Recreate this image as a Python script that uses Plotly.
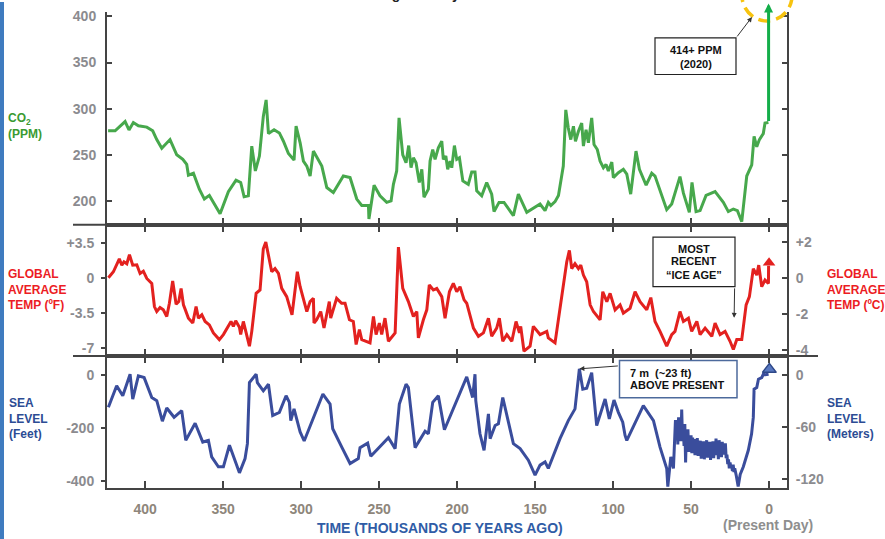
import plotly.graph_objects as go

FONT = "Liberation Sans, Arial, sans-serif"

# ---------------- data (thousands of years ago) ----------------
co2_kyr = [423.7, 419.2, 412.8, 410.3, 407.5, 404.3, 398.9, 395.1, 392.5, 389.3, 384.0, 379.7, 375.8,
           373.3, 372.2, 369.0, 365.2, 362.0, 358.8, 351.9, 346.6, 341.7, 338.7, 336.5, 333.8, 331.6,
           329.3, 326.7, 324.2, 322.4, 320.9, 317.3, 313.9, 311.3, 308.1, 304.5, 303.2, 300.6, 298.5,
           296.3, 294.2, 292.1, 286.7, 283.5, 279.3, 272.9, 268.6, 264.3, 261.1, 256.8, 256.5, 253.2,
           249.4, 245.1, 242.3, 240.8, 238.7, 237.2, 234.8, 232.7, 231.0, 229.5, 228.0, 226.3, 224.2,
           222.6, 221.2, 218.4, 217.3, 215.6, 214.1, 212.0, 209.8, 208.8, 207.2, 206.0, 204.5, 203.4,
           201.7, 200.2, 198.5, 196.3, 192.8, 190.6, 188.5, 187.4, 184.2, 181.0, 177.8, 176.3, 173.1,
           169.9, 163.9, 160.7, 155.3, 146.8, 143.6, 141.5, 139.9, 137.2, 135.0, 133.5, 131.9, 130.3,
           128.7, 127.1, 125.4, 124.1, 122.2, 120.1, 119.0, 117.3, 115.8, 113.7, 112.2, 110.1, 108.3,
           106.2, 104.5, 103.0, 100.8, 99.8, 96.6, 93.4, 91.2, 88.7, 85.3, 83.1, 78.8, 75.2, 73.1,
           65.6, 62.4, 57.1, 54.9, 51.1, 49.4, 46.8, 44.2, 40.4, 34.6, 29.3, 26.1, 22.9, 20.3, 17.5,
           14.3, 11.1, 9.6, 7.9, 6.2, 3.7, 2.6, 0.4]
co2_ppm = [276, 276, 286, 277, 285, 281.5, 280, 276, 266.5, 257, 266.5, 250, 245,
           239.6, 228, 230, 212.7, 202, 206, 186, 210, 222.4, 220, 204.5, 205.6, 259.4,
           232.5, 248.6, 291.6, 309.5, 273, 277.2, 273.7, 264.7, 251.4, 244.3, 281, 263, 243.2,
           237.8, 227, 254, 237.8, 214.5, 209, 227, 225.3, 202, 195, 195, 180.4, 217,
           205.6, 198.4, 200, 218, 232.5, 290, 250, 241.4, 260, 236, 246.8, 241.4, 220,
           234.2, 204, 212.7, 243.2, 255.7, 245, 257.5, 264.7, 245, 248.6, 234.2, 243.2, 236,
           260, 245, 246.8, 221.7, 218, 231.4, 231.4, 211, 205.6, 220, 207.3, 188.4, 198.4,
           198.4, 184, 207.3, 187.6, 196.6, 189.5, 198.4, 195, 199.2, 206, 220, 237.8, 298.7,
           279, 266.5, 281, 264.7, 275.5, 284.4, 259.4, 277.2, 263, 290, 261.1, 255.7, 243,
           236, 239.6, 232.5, 242, 225.3, 230.6, 234.2, 229, 207.3, 254, 234.2, 217, 230, 227,
           190.5, 196.6, 226.3, 208.4, 187.6, 220, 188.4, 189.5, 206, 210, 198.4, 188.4, 191.2, 189.5, 177.6,
           227, 239, 270, 258.6, 266.5, 273, 284.4, 285]
co2_2020_kyr = 0.3
co2_2020_ppm = 414

temp_kyr = [423.5, 420.3, 416.5, 414.9, 413.5, 411.7, 410.0, 407.9, 405.3, 403.2, 401.1, 398.9, 395.7,
            394.0, 392.5, 390.4, 388.3, 386.1, 384.4, 382.3, 380.1, 378.4, 376.9, 375.4, 374.4, 372.2,
            369.4, 367.3, 365.8, 363.6, 361.5, 358.8, 356.2, 352.4, 349.8, 344.9, 343.4, 341.9, 339.5,
            338.7, 337.0, 333.1, 331.6, 328.8, 326.3, 324.2, 322.6, 320.9, 318.8, 316.7, 314.5, 312.4,
            309.2, 305.8, 302.4, 300.6, 298.5, 296.3, 294.2, 292.1, 291.7, 290.0, 287.4, 285.3, 281.9,
            281.0, 277.2, 274.0, 271.8, 269.0, 266.5, 264.7, 262.6, 261.1, 255.8, 253.6, 251.9, 249.8,
            248.3, 246.2, 244.0, 239.7, 237.6, 234.8, 231.2, 228.0, 225.8, 224.8, 221.6, 219.4, 217.8,
            215.2, 213.0, 209.8, 207.7, 204.9, 202.4, 200.2, 198.1, 195.5, 193.8, 191.7, 189.5, 186.3,
            183.1, 179.9, 177.8, 174.6, 172.9, 170.7, 168.1, 164.9, 162.2, 160.0, 159.2, 157.1, 153.2,
            151.1, 146.8, 142.5, 141.5, 137.2, 132.9, 129.7, 128.0, 126.5, 124.4, 122.2, 120.7, 119.0,
            116.9, 114.7, 112.6, 108.3, 106.6, 104.0, 101.9, 98.7, 95.5, 93.4, 89.1, 85.9, 82.7, 78.4,
            75.8, 73.1, 69.9, 65.6, 62.4, 60.3, 57.1, 54.9, 51.7, 49.6, 46.3, 44.2, 41.0, 36.7, 34.6,
            31.4, 28.2, 25.0, 22.9, 20.7, 17.5, 14.7, 12.6, 10.1, 7.9, 6.6, 4.7, 2.6, 0.4, 0.3]
temp_f = [0, 0.6, 1.9, 1.26, 1.6, 1.4, 2.3, 1.26, 1.3, 0.43, 0.66, -0.07, -0.56,
          -2.87, -3.37, -2.97, -3.2, -3.86, -2.54, -0.33, -2.64, -2.38, -1.06, -2.7, -3.1, -4.03,
          -4.52, -2.87, -4.03, -3.7, -4.36, -4.7, -5.5, -6.17, -5.67, -4.36, -4.85, -4.29, -4.95,
          -5.67, -4.36, -6.83, -5.35, -1.55, -1.22, 2.9, 3.56, 2.25, 0.6, 0.92, 0.43, -1.06,
          -1.88, -3.7, 0.6, -0.89, -2.2, -3.37, -2.38, -2.05, -4.52, -4.19, -3.37, -5.02, -2.38,
          -4.03, -2.05, -2.54, -2.54, -4.19, -4.36, -6.66, -5.18, -6.17, -6.5, -3.86, -5.67, -4.52,
          -5.67, -4.03, -6.34, -5.5, 3.07, -1.06, -2.38, -3.86, -3.37, -6.0, -4.19, -3.2, -0.72,
          -1.22, -1.06, -1.88, -4.03, -1.39, -0.56, -1.39, -0.89, -2.2, -2.54, -3.7, -5.02, -5.84,
          -5.5, -4.03, -5.84, -5.02, -4.03, -6.34, -5.67, -6.34, -4.36, -5.5, -4.85, -7.33, -6.83,
          -4.85, -5.67, -5.35, -6.0, -6.5, -2.05, 1.58, 2.74, 0.92, 1.42, 0.92, 1.26, 0.27,
          -0.4, -2.7, -3.37, -4.2, -1.39, -2.38, -1.55, -3.2, -2.7, -3.53, -3.04, -1.39, -2.38, -3.2,
          -1.98, -4.36, -5.35, -6.83, -5.67, -5.35, -3.37, -4.36, -4.03, -5.35, -4.36, -5.67, -5.02, -5.84, -4.52,
          -5.67, -5.35, -6.34, -7.16, -6.17, -6.17, -2.7, -1.88, 0.92, 0.27, 1.26, -0.89, -0.23, -0.56, 1.2]
temp_now_kyr = 0.0
temp_now_f = 1.5

sea_kyr = [423.5, 418.2, 414.3, 409.6, 407.9, 404.3, 400.6, 395.7, 392.5, 388.9, 386.1, 381.4, 376.5,
           373.9, 367.9, 363.0, 359.4, 357.3, 353.0, 349.8, 345.9, 339.5, 335.9, 334.4, 333.1, 328.8,
           328.0, 324.2, 320.9, 318.2, 313.9, 309.6, 307.5, 306.6, 304.5, 301.7, 300.6, 298.0, 292.1,
           286.0, 281.4, 279.7, 273.9, 268.6, 263.3, 262.2, 257.3, 255.3, 244.0, 239.7, 237.0, 232.7,
           231.2, 226.9, 220.5, 218.4, 215.6, 212.0, 208.1, 193.8, 190.0, 188.5, 188.0, 185.3, 182.7,
           179.9, 178.8, 175.6, 173.5, 170.7, 163.9, 159.6, 154.3, 150.0, 146.8, 143.6, 141.5, 134.0,
           128.7, 124.4, 121.6, 119.4, 116.9, 113.7, 110.5, 108.3, 105.1, 102.4, 99.4, 96.6, 93.8,
           92.3, 91.2, 80.6, 74.1, 69.9, 67.7, 65.6, 64.9, 63.0, 61.3,
           60.0, 59.5, 59.0, 58.5, 58.0, 57.5, 57.0, 56.5, 56.0, 55.5, 55.0, 54.5, 54.0, 53.5,
           53.0, 52.5, 52.0, 51.5, 51.0, 50.5, 50.0, 49.5, 49.0, 48.5, 48.0, 47.5, 47.0, 46.5,
           46.0, 45.5, 45.0, 44.5, 44.0, 43.5, 43.0, 42.5, 42.0, 41.5, 41.0, 40.5, 40.0, 39.5,
           39.0, 38.5, 38.0, 37.5, 37.0, 36.5, 36.0, 35.5, 35.0, 34.5, 34.0, 33.5, 33.0, 32.5,
           32.0, 31.5, 31.0, 30.5, 30.0, 29.5, 29.0, 28.5, 28.0, 27.5, 27.0, 26.5, 26.0, 25.5,
           25.0, 24.5, 24.0, 23.5, 23.0, 22.5, 22.0, 21.0, 20.3, 19.8, 18.5, 16.5, 13.3, 11.2,
           10.1, 9.6, 7.9, 6.8, 4.7, 3.7, 2.5, 1.0, 0.3]
sea_ft = [-122, -41, -78.5, 2.6, -91, -3.7, -10, -85, -97, -174.5, -124.5, -159.6, -134.6,
          -246.7, -182, -253, -246.7, -309, -346.5, -346.5, -265, -369, -315, -259, -28.7, 2.6,
          -28.7, -60, -35, -153, -141, -78.5, -103.5, -172, -128, -190.7, -215, -249, -159.6,
          -72, -109.6, -203, -272, -334, -315, -274, -257, -306.5, -236.6, -277.8, -109.6, -35,
          -47.5, -274, -212, -221.7, -103.5, -78.5, -206.7, -7.5, -84.9, 2.6, -97, -221.7, -284,
          -147, -240, -190.7, -184, -85, -259, -277.8, -321.5, -377.6, -340, -327.8, -352.5, -240,
          -172, -128, 23, -53.5, -50, 8.6, -190.7, -150, -91, -165.6, -94.6, -141, -178,
          -228, -246.7, -116, -172, -272, -309, -352.5, -421, -309, -352.5,
          -170, -235, -185, -262, -160, -228, -190, -250, -130, -238, -200, -268, -185, -330,
          -220, -265, -205, -290, -232, -262, -228, -295, -236, -272, -242, -302, -250, -280,
          -238, -305, -262, -290, -248, -316, -255, -292, -250, -318, -262, -300, -246, -312,
          -268, -296, -252, -320, -258, -292, -250, -314, -262, -302, -240, -298, -258, -318,
          -246, -292, -262, -310, -252, -300, -266, -296, -258, -314, -300, -336, -318, -352,
          -330, -348, -340, -362, -338, -366, -352, -380, -400, -421, -375, -346, -284, -222,
          -160, -53.5, -47.5, -16, -10, 2.6, 1, 2, 3]
sea_now_kyr = -0.2
sea_now_ft = 21

x_ticks = [400, 350, 300, 250, 200, 150, 100, 50, 0]
co2_ticks = [200, 250, 300, 350, 400]
tempf_ticks = [3.5, 0, -3.5, -7]
tempf_text = ["+3.5", "0", "-3.5", "-7"]
tempc_ticks = [2, 0, -2, -4]
tempc_text = ["+2", "0", "-2", "-4"]
seaft_ticks = [0, -200, -400]
seaft_text = ["0", "-200", "-400"]
seam_ticks = [0, -60, -120]
seam_text = ["0", "-60", "-120"]

# ---------------- styling ----------------
CO2_LINE = "#47a84c"
CO2_NOW = "#14ae4a"
CO2_TXT = "#3a9a32"
TEMP_LINE = "#e3211f"
TEMP_TXT = "#ec1c24"
SEA_LINE = "#3a4d9c"
SEA_TXT = "#2c4c94"
AXIS = "#444444"
TICK_TXT = "#8b8b8f"
XTICK_TXT = "#8e867b"

X_RANGE = [424.4, -11.5]
CO2_RANGE = [174.2, 404.8]
TEMPF_RANGE = [-7.82, 5.30]
SEAFT_RANGE = [-426.2, 71.0]
tempc_range = [v / 1.8 for v in TEMPF_RANGE]
seam_range = [v * 0.3048 for v in SEAFT_RANGE]

W, H = 885, 539
ML, MR, MT, MB = 107, 98, 8, 51
PW, PH = W - ML - MR, H - MT - MB


def px(xp):
    return (xp - ML) / PW


def py(yp):
    return (H - MB - yp) / PH


D_CO2 = [py(222.5), 1.0]
D_TEMP = [py(355), py(222.5)]
D_SEA = [0.0, py(355)]

fig = go.Figure()
fig.add_trace(go.Scatter(x=co2_kyr, y=co2_ppm, xaxis="x", yaxis="y", mode="lines",
                         line=dict(color=CO2_LINE, width=3), hoverinfo="skip"))
fig.add_trace(go.Scatter(x=temp_kyr, y=temp_f, xaxis="x2", yaxis="y2", mode="lines",
                         line=dict(color=TEMP_LINE, width=3), hoverinfo="skip"))
fig.add_trace(go.Scatter(x=[temp_now_kyr], y=[temp_now_f], xaxis="x2", yaxis="y2", mode="markers",
                         marker=dict(symbol="triangle-up", size=11, color=TEMP_LINE),
                         cliponaxis=False, hoverinfo="skip"))
fig.add_trace(go.Scatter(x=sea_kyr, y=sea_ft, xaxis="x3", yaxis="y3", mode="lines",
                         line=dict(color=SEA_LINE, width=3), hoverinfo="skip"))
fig.add_trace(go.Scatter(x=[sea_now_kyr], y=[sea_now_ft], xaxis="x3", yaxis="y3", mode="markers",
                         marker=dict(symbol="triangle-up", size=12, color="#5878c0",
                                     line=dict(color="#2e4888", width=1.5)),
                         cliponaxis=False, hoverinfo="skip"))
# companion traces carrying the Celsius / metre scales on the right-hand axes
fig.add_trace(go.Scatter(x=temp_kyr, y=[v / 1.8 for v in temp_f], xaxis="x2", yaxis="y4",
                         mode="lines", line=dict(width=0), opacity=0, hoverinfo="skip"))
fig.add_trace(go.Scatter(x=sea_kyr, y=[v * 0.3048 for v in sea_ft], xaxis="x3", yaxis="y5",
                         mode="lines", line=dict(width=0), opacity=0, hoverinfo="skip"))

tickfont = dict(family=FONT, size=14, color=TICK_TXT, weight="bold")
xcommon = dict(range=X_RANGE, autorange=False, tickvals=x_ticks, ticktext=[str(v) for v in x_ticks],
               ticks="inside", ticklen=7, tickwidth=1.5, tickcolor=AXIS, linecolor=AXIS,
               linewidth=2, showgrid=False, zeroline=False, showline=True)
ycommon = dict(autorange=False, showgrid=False, zeroline=False, showline=True, linecolor=AXIS,
               linewidth=2, tickcolor=AXIS, tickwidth=1.5, tickfont=tickfont)

fig.update_layout(
    width=W, height=H, margin=dict(l=ML, r=MR, t=MT, b=MB),
    paper_bgcolor="white", plot_bgcolor="white", showlegend=False,
    font=dict(family=FONT),
    xaxis=dict(**xcommon, anchor="y", showticklabels=False),
    xaxis2=dict(**xcommon, anchor="y2", mirror="ticks", showticklabels=False),
    xaxis3=dict(**xcommon, anchor="y3", mirror="ticks", showticklabels=True,
                tickfont=dict(family=FONT, size=14, color=XTICK_TXT, weight="bold"),
                ticklabelstandoff=7),
    yaxis=dict(**ycommon, domain=D_CO2, range=CO2_RANGE, anchor="x", tickvals=co2_ticks,
               ticks="inside", ticklen=5, mirror="ticks", ticklabelstandoff=6),
    yaxis2=dict(**ycommon, domain=D_TEMP, range=TEMPF_RANGE, anchor="x2", tickvals=tempf_ticks,
                ticktext=tempf_text, ticks="outside", ticklen=4, ticklabelstandoff=4),
    yaxis3=dict(**ycommon, domain=D_SEA, range=SEAFT_RANGE, anchor="x3", tickvals=seaft_ticks,
                ticktext=seaft_text, ticks="outside", ticklen=4, ticklabelstandoff=4),
    yaxis4=dict(**ycommon, range=tempc_range, overlaying="y2", side="right", anchor="x2",
                tickvals=tempc_ticks, ticktext=tempc_text, ticks="inside", ticklen=5,
                ticklabelstandoff=4),
    yaxis5=dict(**ycommon, range=seam_range, overlaying="y3", side="right", anchor="x3",
                tickvals=seam_ticks, ticktext=seam_text, ticks="inside", ticklen=5,
                ticklabelstandoff=4),
)

shapes = [
    # blue strip on the left edge
    dict(type="rect", xref="paper", yref="paper", x0=px(-2), x1=px(4), y0=py(H + 2), y1=py(-2),
         fillcolor="#3f7bbf", line=dict(width=0), layer="above"),
    # panel separators
    dict(type="line", xref="paper", yref="paper", x0=px(73), x1=px(787), y0=py(222.5), y1=py(222.5),
         line=dict(color=AXIS, width=2), layer="above"),
    dict(type="line", xref="paper", yref="paper", x0=px(73), x1=px(818), y0=py(355), y1=py(355),
         line=dict(color=AXIS, width=2), layer="above"),
    # dashed highlight ring around the present-day CO2 value
    dict(type="circle", xref="paper", yref="paper", x0=px(742), x1=px(792), y0=py(17), y1=py(-34),
         line=dict(color="#f7c30f", width=3.5, dash="12px,6px"), layer="above"),
    # annotation boxes
    dict(type="rect", xref="paper", yref="paper", x0=px(655), x1=px(736), y0=py(71), y1=py(34),
         fillcolor="white", line=dict(color="#222", width=1.2), layer="above"),
    dict(type="rect", xref="paper", yref="paper", x0=px(653), x1=px(735), y0=py(285), y1=py(235),
         fillcolor="white", line=dict(color="#222", width=1.2), layer="above"),
    dict(type="rect", xref="paper", yref="paper", x0=px(619.5), x1=px(737), y0=py(397), y1=py(359.5),
         fillcolor="white", line=dict(color="#4d6a9c", width=1.5), layer="above"),
]
fig.update_layout(shapes=shapes)


def label(text, x, y, color, size=12, xanchor="left", yanchor="middle", bold=True, align="left"):
    return dict(text=text, x=px(x), y=py(y), xref="paper", yref="paper", showarrow=False,
                xanchor=xanchor, yanchor=yanchor, align=align,
                font=dict(family=FONT, size=size, color=color, weight="bold" if bold else "normal"))


annotations = [
    # title sitting above the top edge (only its descenders reach the page)
    dict(text="Long-Term Cycles", x=px(426), y=py(-0.5), xref="paper", yref="paper", showarrow=False,
         xanchor="center", yanchor="bottom", font=dict(family=FONT, size=14, color="#222", weight="bold")),
    label("CO<sub>2</sub><br>(PPM)", 6, 123, CO2_TXT),
    label("GLOBAL<br>AVERAGE<br>TEMP (ºF)", 6, 288, TEMP_TXT),
    label("SEA<br>LEVEL<br>(Feet)", 7, 417.5, SEA_TXT),
    label("GLOBAL<br>AVERAGE<br>TEMP (ºC)", 825, 288, TEMP_TXT),
    label("SEA<br>LEVEL<br>(Meters)", 825, 417.5, SEA_TXT),
    label("TIME (THOUSANDS OF YEARS AGO)", 440, 528, "#2f5ca6", size=14, xanchor="center"),
    label("(Present Day)", 767.5, 525, "#8e8e8e", size=14, xanchor="center"),
    # box texts
    label("414+ PPM", 695.5, 46, "#111", size=11, xanchor="center"),
    label("(2020)", 695.5, 60.5, "#111", size=11, xanchor="center"),
    label("MOST", 694, 246.5, "#111", size=11, xanchor="center"),
    label("RECENT", 694, 259.5, "#111", size=11, xanchor="center"),
    label("“ICE AGE”", 694, 273, "#111", size=11, xanchor="center"),
    label("7 m  (~23 ft)", 628, 372.5, "#111", size=11),
    label("ABOVE PRESENT", 628, 384.5, "#111", size=11),
    # present-day CO2 jump
    dict(text="", x=co2_2020_kyr, y=co2_2020_ppm, xref="x", yref="y",
         ax=co2_2020_kyr, ay=co2_ppm[-1], axref="x", ayref="y",
         showarrow=True, arrowhead=2, arrowsize=0.6, arrowwidth=3, arrowcolor=CO2_NOW),
    # pointer arrows
    dict(text="", x=px(752), y=py(13), xref="paper", yref="paper", ax=-16, ay=21,
         showarrow=True, arrowhead=2, arrowsize=1, arrowwidth=1, arrowcolor="#333"),
    dict(text="", x=22.4, y=-4.0, xref="x2", yref="y2", ax=0.5, ay=-31,
         showarrow=True, arrowhead=2, arrowsize=1, arrowwidth=1, arrowcolor="#333"),
    dict(text="", x=121.6, y=23, xref="x3", yref="y3", ax=40, ay=-3,
         showarrow=True, arrowhead=2, arrowsize=1, arrowwidth=1, arrowcolor="#333"),
]
fig.update_layout(annotations=annotations)

fig.write_html("out.html")
